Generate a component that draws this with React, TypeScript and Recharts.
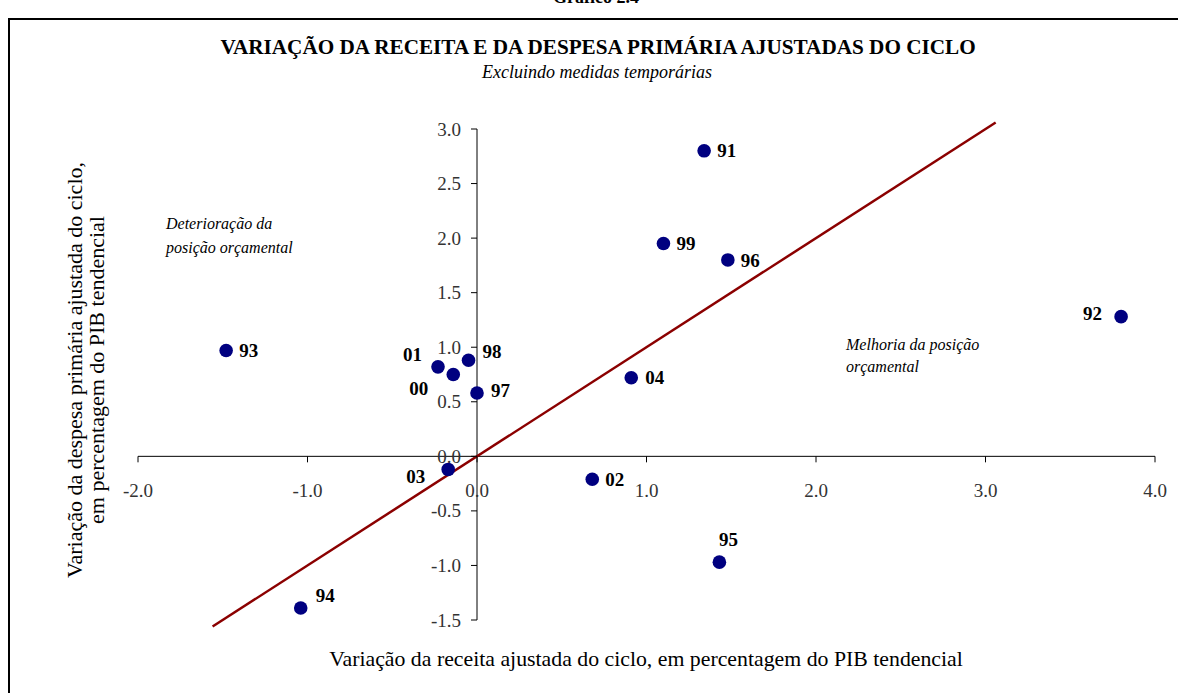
import React from 'react';
import { ScatterChart, Scatter, XAxis, YAxis, ReferenceLine } from 'recharts';

// Years (labels of the points)
const years = ['91', '92', '93', '94', '95', '96', '97', '98', '99', '00', '01', '02', '03', '04'];
// Variação da receita ajustada do ciclo (x)
const revenueChange = [1.34, 3.8, -1.48, -1.04, 1.43, 1.48, 0.0, -0.05, 1.1, -0.14, -0.23, 0.68, -0.17, 0.91];
// Variação da despesa primária ajustada do ciclo (y)
const spendingChange = [2.8, 1.28, 0.97, -1.39, -0.97, 1.8, 0.58, 0.88, 1.95, 0.75, 0.82, -0.21, -0.12, 0.72];
// Axis ticks
const xTicks = [-2, -1, 0, 1, 2, 3, 4];
const yTicks = [-1.5, -1, -0.5, 0, 0.5, 1, 1.5, 2, 2.5, 3];
// 45-degree line (y = x) extent
const diagonalX = [-1.56, 3.06];

const FONT = "'Liberation Serif', 'Times New Roman', serif";

const points = years.map((label, i) => ({ x: revenueChange[i], y: spendingChange[i], label }));
const xTickData = xTicks.map((v) => ({ x: v, y: 0 }));
const yTickData = yTicks.map((v) => ({ x: 0, y: v }));

// label placement (styling only)
const placement: Record<string, { dx: number; dy: number; anchor: 'start' | 'end' | 'middle' }> = {
  '91': { dx: 13, dy: 0, anchor: 'start' },
  '92': { dx: -19, dy: -3, anchor: 'end' },
  '93': { dx: 13, dy: 0, anchor: 'start' },
  '94': { dx: 15, dy: -12, anchor: 'start' },
  '95': { dx: 9, dy: -23, anchor: 'middle' },
  '96': { dx: 13, dy: 1, anchor: 'start' },
  '97': { dx: 14, dy: -3, anchor: 'start' },
  '98': { dx: 14, dy: -9, anchor: 'start' },
  '99': { dx: 13, dy: 0, anchor: 'start' },
  '00': { dx: -25, dy: 14, anchor: 'end' },
  '01': { dx: -16, dy: -12, anchor: 'end' },
  '02': { dx: 13, dy: 0, anchor: 'start' },
  '03': { dx: -23, dy: 7, anchor: 'end' },
  '04': { dx: 14, dy: 0, anchor: 'start' },
};

const PointShape = (props: any) => {
  const { cx, cy, payload } = props;
  const p = placement[payload.label] || { dx: 12, dy: 0, anchor: 'start' };
  return (
    <g>
      <circle cx={cx} cy={cy} r={6.8} fill="#000080" />
      <text
        x={cx + p.dx}
        y={cy + p.dy}
        textAnchor={p.anchor}
        dominantBaseline="central"
        fontFamily={FONT}
        fontWeight="bold"
        fontSize={19}
        fill="#000"
      >
        {payload.label}
      </text>
    </g>
  );
};

const XTickShape = (props: any) => {
  const { cx, cy, payload } = props;
  return (
    <g>
      <line x1={cx} y1={cy} x2={cx} y2={cy + 6} stroke="#000" strokeWidth={1} />
      <text x={cx} y={cy + 34} textAnchor="middle" dominantBaseline="central" fontFamily={FONT} fontSize={19} fill="#333">
        {payload.x.toFixed(1)}
      </text>
    </g>
  );
};

const YTickShape = (props: any) => {
  const { cx, cy, payload } = props;
  return (
    <g>
      <line x1={cx - 6} y1={cy} x2={cx} y2={cy} stroke="#000" strokeWidth={1} />
      <text x={cx - 16} y={cy} textAnchor="end" dominantBaseline="central" fontFamily={FONT} fontSize={19} fill="#333">
        {payload.y.toFixed(1)}
      </text>
    </g>
  );
};

export default function App() {
  return (
    <div style={{ position: 'absolute', left: 0, top: 0, width: 1178, height: 693, overflow: 'hidden', background: '#fff', fontFamily: FONT }}>
      <div style={{ position: 'absolute', left: 596, top: -13, transform: 'translateX(-50%)', fontWeight: 'bold', fontSize: 18, whiteSpace: 'nowrap', lineHeight: '20px' }}>
        Gráfico 2.4
      </div>
      <div style={{ position: 'absolute', left: 8, top: 18, width: 1400, height: 900, borderLeft: '2px solid #000', borderTop: '2px solid #000' }} />
      <div style={{ position: 'absolute', left: 0, top: 0 }}>
        <ScatterChart width={1178} height={693} margin={{ top: 129, right: 23, bottom: 73, left: 138 }}>
          <XAxis type="number" dataKey="x" domain={[-2, 4]} hide />
          <YAxis type="number" dataKey="y" domain={[-1.5, 3]} hide />
          <ReferenceLine y={0} stroke="#000" strokeWidth={1} />
          <ReferenceLine x={0} stroke="#000" strokeWidth={1} />
          <Scatter data={xTickData} shape={XTickShape} isAnimationActive={false} />
          <Scatter data={yTickData} shape={YTickShape} isAnimationActive={false} />
          <ReferenceLine
            segment={[
              { x: diagonalX[0], y: diagonalX[0] },
              { x: diagonalX[1], y: diagonalX[1] },
            ]}
            stroke="#8B0000"
            strokeWidth={2.5}
            ifOverflow="visible"
          />
          <Scatter data={points} shape={PointShape} isAnimationActive={false} />
        </ScatterChart>
      </div>
      <div style={{ position: 'absolute', left: 598, top: 36, transform: 'translateX(-50%)', fontWeight: 'bold', fontSize: 21.2, whiteSpace: 'nowrap', lineHeight: '22px' }}>
        VARIAÇÃO DA RECEITA E DA DESPESA PRIMÁRIA AJUSTADAS DO CICLO
      </div>
      <div style={{ position: 'absolute', left: 597, top: 62, transform: 'translateX(-50%)', fontStyle: 'italic', fontSize: 18, whiteSpace: 'nowrap', lineHeight: '20px' }}>
        Excluindo medidas temporárias
      </div>
      <div style={{ position: 'absolute', left: 166, top: 212, fontStyle: 'italic', fontSize: 16, whiteSpace: 'nowrap', lineHeight: '24px' }}>
        Deterioração da
        <br />
        posição orçamental
      </div>
      <div style={{ position: 'absolute', left: 846, top: 334, fontStyle: 'italic', fontSize: 16, whiteSpace: 'nowrap', lineHeight: '22px' }}>
        Melhoria da posição
        <br />
        orçamental
      </div>
      <div style={{ position: 'absolute', left: 646, top: 647, transform: 'translateX(-50%)', fontSize: 21.8, whiteSpace: 'nowrap', lineHeight: '24px' }}>
        Variação da receita ajustada do ciclo, em percentagem do PIB tendencial
      </div>
      <div
        style={{
          position: 'absolute',
          left: 86,
          top: 370,
          transform: 'translate(-50%, -50%) rotate(-90deg)',
          fontSize: 22,
          whiteSpace: 'nowrap',
          lineHeight: '22px',
          textAlign: 'center',
        }}
      >
        Variação da despesa primária ajustada do ciclo,
        <br />
        em percentagem do PIB tendencial
      </div>
    </div>
  );
}
